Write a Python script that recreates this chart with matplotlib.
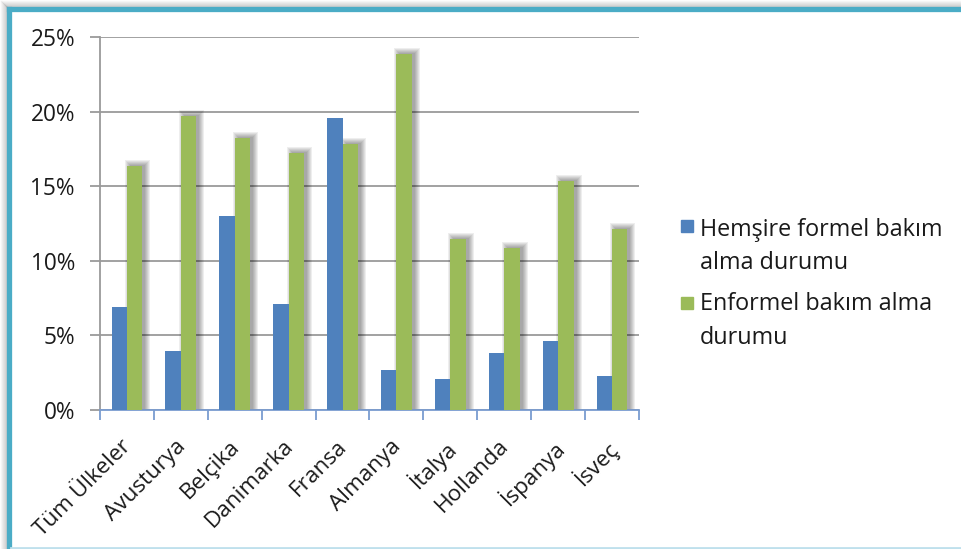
import numpy as np
import matplotlib
matplotlib.use("Agg")
import matplotlib.pyplot as plt
import matplotlib.transforms as mtransforms
from matplotlib.patches import Rectangle
from matplotlib.lines import Line2D
from matplotlib.ticker import PercentFormatter

plt.rcParams['font.family'] = ['Open Sans', 'DejaVu Sans']

countries = ['Tüm Ülkeler', 'Avusturya', 'Belçika', 'Danimarka', 'Fransa',
             'Almanya', 'İtalya', 'Hollanda', 'İspanya', 'İsveç']
formel = [6.9, 3.95, 13.0, 7.1, 19.55, 2.7, 2.1, 3.8, 4.6, 2.25]
enformel = [16.35, 19.7, 18.25, 17.2, 17.85, 23.85, 11.45, 10.85, 15.35, 12.1]
labels = ['Hemşire formel bakım\nalma durumu', 'Enformel bakım alma\ndurumu']

blue = '#4f81bd'
green = '#9bbb59'

W, H = 962, 549
fig = plt.figure(figsize=(W / 100, H / 100), dpi=100)
ax = fig.add_axes([100 / W, 1 - 410 / H, 539 / W, 373 / H])

x = np.arange(len(countries))
bw = 0.285
f = np.array(formel) / 100
e = np.array(enformel) / 100

# blurred drop shadow behind the green bars: stacked, growing rectangles
px = 1 / 53.9          # one pixel in x data units
py = 0.05 / 74.6       # one pixel in y data units
for r in range(6):
    ax.bar(x + bw / 2 + 3 * px, e + (1 + r) * py, bw + 2 * r * px,
           color='black', alpha=0.065, linewidth=0, zorder=2)

ax.bar(x - bw / 2, f, bw, color=blue, zorder=3, linewidth=0)
ax.bar(x + bw / 2, e, bw, color=green, zorder=3, linewidth=0)

ax.set_xlim(-0.5, 9.5)
ax.set_ylim(0, 0.25)
ax.set_yticks(np.arange(0, 0.26, 0.05))
ax.yaxis.set_major_formatter(PercentFormatter(1.0, decimals=0))
ax.grid(axis='y', color='#9a9a9a', linewidth=1.3, zorder=0)
ax.set_axisbelow(True)

ax.set_xticks(x)
ax.set_xticklabels(countries, rotation=45, ha='right', rotation_mode='anchor')
ax.set_xticks(np.arange(-0.5, 10, 1), minor=True)
ax.tick_params(axis='x', which='major', length=0, pad=17, labelsize=16.2,
               labelcolor='#1a1a1a')
ax.tick_params(axis='x', which='minor', length=7, width=1.3, color='#7a9cd0')
ax.tick_params(axis='y', length=7, width=1.3, color='#9a9a9a', pad=11,
               labelsize=16.3, labelcolor='#1a1a1a')
shift = mtransforms.ScaledTranslation(-0.06, -0.02, fig.dpi_scale_trans)
for t in ax.get_xticklabels():
    t.set_transform(t.get_transform() + shift)

for s in ['top', 'right']:
    ax.spines[s].set_visible(False)
ax.spines['left'].set_color('#9a9a9a')
ax.spines['left'].set_linewidth(1.3)
ax.spines['bottom'].set_color('#7a9cd0')
ax.spines['bottom'].set_linewidth(1.3)

# legend drawn as squares with wrapped captions
for i, (lab, col) in enumerate(zip(labels, [blue, green])):
    sq = 220 + i * 77
    fig.add_artist(Rectangle((681 / W, 1 - (sq + 12) / H), 12 / W, 12 / H,
                             transform=fig.transFigure, color=col))
    fig.text(700 / W, 1 - (218 + i * 74.5) / H, lab, fontsize=16.8,
             color='#1a1a1a', va='top', ha='left', linespacing=1.5)

# outer frame with a faint shadow
for k in range(7):
    a = 0.05 * (k + 1)
    fig.add_artist(Line2D([(k + 0.5) / W, (k + 0.5) / W], [0, 1 - (k + 0.5) / H],
                          transform=fig.transFigure, color='gray', alpha=a, lw=1))
    fig.add_artist(Line2D([(k + 0.5) / W, 1], [1 - (k + 0.5) / H, 1 - (k + 0.5) / H],
                          transform=fig.transFigure, color='gray', alpha=a, lw=1))
fig.add_artist(Line2D([9 / W, 9 / W], [0, 1 - 9 / H], transform=fig.transFigure,
                      color='#4bacc6', lw=3.8, solid_capstyle='projecting'))
fig.add_artist(Line2D([9 / W, 1], [1 - 9 / H, 1 - 9 / H], transform=fig.transFigure,
                      color='#4bacc6', lw=3.8, solid_capstyle='projecting'))
fig.add_artist(Line2D([11 / W, 1], [1 - 547.5 / H, 1 - 547.5 / H],
                      transform=fig.transFigure, color='#bfe0ec', lw=2))

fig.savefig('out.png', dpi=100)
